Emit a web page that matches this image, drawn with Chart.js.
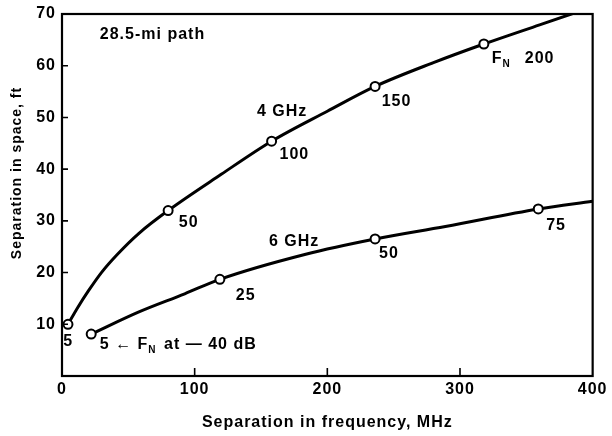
<!DOCTYPE html>
<html>
<head>
<meta charset="utf-8">
<script src="https://cdn.jsdelivr.net/npm/chart.js@4.4.0/dist/chart.umd.min.js"></script>
<style>
  html, body { margin: 0; padding: 0; background: #fff; }
  #wrap { width: 612px; height: 436px; }
</style>
</head>
<body>
<div id="wrap"><canvas id="chart" width="612" height="436"></canvas></div>
<script>
const xTicks = [0, 100, 200, 300, 400];
const yTicks = [10, 20, 30, 40, 50, 60, 70];
const xTitle = "Separation in frequency, MHz";
const yTitle = "Separation in space, ft";

// 4 GHz curve and its marked points
const curve4x = [4.5, 12, 20, 30, 42, 58, 80, 120, 158, 200, 236, 280, 318, 360, 400];
const curve4y = [10, 13.3, 16.5, 20.1, 23.6, 27.6, 32, 39, 45.4, 51.2, 56, 60.6, 64.2, 67.9, 71.4];
const mark4x = [4.5, 80, 158, 236, 318];
const mark4y = [10, 32, 45.4, 56, 64.2];
const mark4labels = ["5", "50", "100", "150", "200"];

// 6 GHz curve and its marked points
const curve6x = [22, 58, 92.5, 119, 183, 236, 289, 359, 400];
const curve6y = [8.1, 12.4, 15.9, 18.7, 23.5, 26.5, 28.9, 32.3, 33.8];
const mark6x = [22, 119, 236, 359];
const mark6y = [8.1, 18.7, 26.5, 32.3];
const mark6labels = ["5", "25", "50", "75"];

const pts = (xs, ys) => xs.map((x, i) => ({ x, y: ys[i] }));
const FONT = "'Liberation Sans', Arial, sans-serif";
const font = (size) => ({ family: FONT, size, weight: "bold", lineHeight: 1 });

const lineStyle = {
  showLine: true,
  borderColor: "#000",
  borderWidth: 3,
  pointRadius: 0,
  cubicInterpolationMode: "monotone",
};
const markStyle = {
  showLine: false,
  pointRadius: 4.5,
  pointBorderWidth: 2,
  pointBorderColor: "#000",
  pointBackgroundColor: "#fff",
};

// wider, scan-like lettering
const spacing = {
  id: "spacing",
  beforeDraw(chart) { chart.ctx.letterSpacing = "1px"; },
};

const frame = {
  id: "frame",
  afterDraw(chart) {
    const { ctx, chartArea: a, scales } = chart;
    ctx.save();
    ctx.strokeStyle = "#000";
    ctx.lineWidth = 2.2;
    ctx.strokeRect(a.left, a.top, a.right - a.left, a.bottom - a.top);
    // inward ticks
    ctx.lineWidth = 1.6;
    ctx.beginPath();
    yTicks.forEach((v) => {
      const y = scales.y.getPixelForValue(v);
      ctx.moveTo(a.left, y);
      ctx.lineTo(a.left + 6, y);
    });
    xTicks.slice(1, -1).forEach((v) => {
      const x = scales.x.getPixelForValue(v);
      ctx.moveTo(x, a.bottom);
      ctx.lineTo(x, a.bottom - 8);
    });
    ctx.stroke();
    // y axis title, sits a little above the plot centre in the original
    ctx.translate(17, 173);
    ctx.rotate(-Math.PI / 2);
    ctx.letterSpacing = "1px";
    ctx.font = `bold 14px ${FONT}`;
    ctx.fillStyle = "#000";
    ctx.textAlign = "center";
    ctx.textBaseline = "middle";
    ctx.fillText(yTitle, 0, 0);
    ctx.restore();
  },
};

const notes = {
  id: "notes",
  afterDatasetsDraw(chart) {
    const { ctx, scales } = chart;
    const px = (x) => scales.x.getPixelForValue(x);
    const py = (y) => scales.y.getPixelForValue(y);
    ctx.save();
    ctx.fillStyle = "#000";
    ctx.textBaseline = "middle";
    ctx.textAlign = "left";
    ctx.letterSpacing = "1px";
    const text = (s, x, y, size = 16) => {
      ctx.font = `bold ${size}px ${FONT}`;
      ctx.fillText(s, x, y);
      return x + ctx.measureText(s).width;
    };
    const fn = (x, y) => {
      let e = text("F", x, y, 16);
      return text("N", e, y + 5, 10);
    };

    text("28.5-mi path", px(28.5), py(66));
    text("4 GHz", px(147), py(51.2));
    text("6 GHz", px(156), py(26));

    const lab4 = [[1, 6.7], [88, 29.6], [164, 42.9], [241, 53]];
    lab4.forEach(([x, y], i) => text(mark4labels[i], px(x), py(y)));
    let e = fn(px(324), py(61.3));
    text(mark4labels[4], e + 14, py(61.3));

    const lab6 = [[131, 15.6], [239, 23.7], [365, 29]];
    lab6.forEach(([x, y], i) => text(mark6labels[i + 1], px(x), py(y)));
    e = text(mark6labels[0], px(28.5), py(6));
    e = text(" \u2190 ", e, py(6));
    e = fn(e, py(6));
    text(" at \u2014 40 dB", e + 2, py(6));
    ctx.restore();
  },
};

new Chart(document.getElementById("chart"), {
  type: "scatter",
  data: {
    datasets: [
      { ...markStyle, data: pts(mark4x, mark4y) },
      { ...markStyle, data: pts(mark6x, mark6y) },
      { ...lineStyle, data: pts(curve4x, curve4y) },
      { ...lineStyle, data: pts(curve6x, curve6y) },
    ],
  },
  options: {
    responsive: false,
    animation: false,
    layout: { padding: { top: 12, right: 18, left: 0, bottom: 0 } },
    plugins: { legend: { display: false }, tooltip: { enabled: false } },
    scales: {
      x: {
        type: "linear",
        min: 0,
        max: 400,
        afterBuildTicks: (s) => { s.ticks = xTicks.map((v) => ({ value: v })); },
        afterFit: (s) => { s.height = 60; },
        grid: { display: false, drawTicks: false },
        border: { display: false },
        ticks: { color: "#000", padding: 6, font: font(16) },
        title: {
          display: true,
          text: xTitle,
          color: "#000",
          padding: { top: 0, bottom: 5 },
          font: font(16),
        },
      },
      y: {
        type: "linear",
        min: 0,
        max: 70,
        afterBuildTicks: (s) => { s.ticks = yTicks.map((v) => ({ value: v })); },
        afterFit: (s) => { s.width = 62; },
        grid: { display: false, drawTicks: false },
        border: { display: false },
        ticks: { color: "#000", padding: 6, font: font(16) },
      },
    },
  },
  plugins: [spacing, frame, notes],
});
</script>
</body>
</html>
